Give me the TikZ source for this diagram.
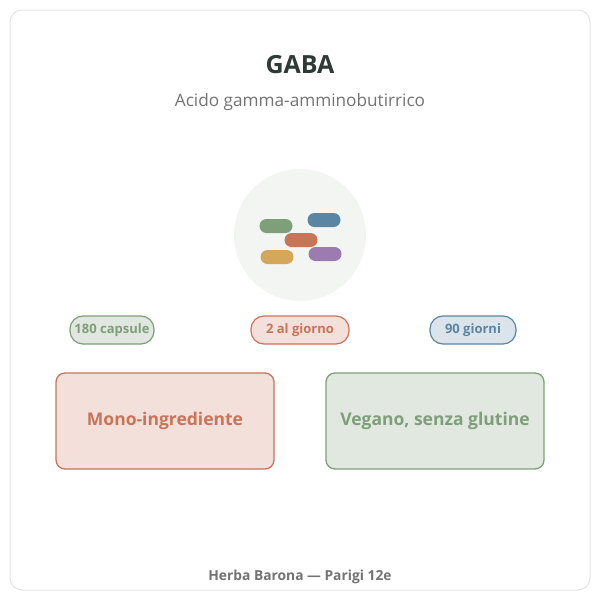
\documentclass[tikz,border=0pt]{standalone}
\usepackage{fontspec}
\setmainfont{Open Sans}
\begin{document}
\begin{tikzpicture}[x=1pt,y=-1pt,
  pill/.style={rounded corners=7pt,minimum width=33pt,minimum height=14pt,inner sep=0pt},
  tag/.style={draw,line width=1.2pt,rounded corners=13pt,minimum height=28pt,inner sep=0pt,font=\fontsize{13}{15}\selectfont\bfseries},
  box/.style={draw,line width=1.3pt,rounded corners=9pt,minimum width=218pt,minimum height=96pt,inner sep=0pt,font=\fontsize{17.5}{20}\selectfont\bfseries}]
\definecolor{gr}{HTML}{7F9F7A}\definecolor{bl}{HTML}{5B86A3}\definecolor{orr}{HTML}{C87458}
\definecolor{ye}{HTML}{D4A75A}\definecolor{pu}{HTML}{9B7BB0}
\definecolor{cf}{HTML}{F3F5F2}\definecolor{tt}{HTML}{2D3A36}
\useasboundingbox (0,0) rectangle (600,600);
\node[draw=black!10,line width=1pt,rounded corners=12pt,minimum width=580pt,minimum height=580pt,inner sep=0pt] (card) at (300,300) {};
\node[font=\fontsize{25}{28}\selectfont\bfseries,text=tt] (t) at (300,65) {GABA};
\node[font=\fontsize{17.2}{19}\selectfont,text=black!55] (s) at (300,102) {Acido gamma-amminobutirrico};
\node[circle,fill=cf,minimum size=132pt,inner sep=0pt] (c) at (300,235) {};
\node[pill,fill=gr] (p1) at (276,226) {};
\node[pill,fill=bl] (p2) at (324,220) {};
\node[pill,fill=orr] (p3) at (301,240) {};
\node[pill,fill=ye] (p4) at (277,257) {};
\node[pill,fill=pu] (p5) at (325,254) {};
\node[tag,fill=gr!25,draw=gr,text=gr,minimum width=84pt] (a) at (112,330) {180 capsule};
\node[tag,fill=orr!22,draw=orr,text=orr,minimum width=98pt] (b) at (300,330) {2 al giorno};
\node[tag,fill=bl!22,draw=bl,text=bl,minimum width=86pt] (d) at (473,330) {90 giorni};
\node[box,fill=orr!22,draw=orr,text=orr] (l) at (165,421) {Mono-ingrediente};
\node[box,fill=gr!24,draw=gr,text=gr] (r) at (435,421) {Vegano, senza glutine};
\node[font=\fontsize{13.8}{15}\selectfont\bfseries,text=black!55] (f) at (300,577) {Herba Barona — Parigi 12e};
\end{tikzpicture}
\end{document}
